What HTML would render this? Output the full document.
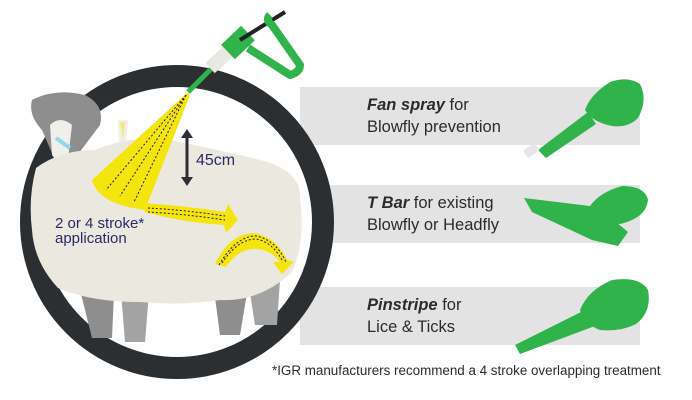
<!DOCTYPE html>
<html><head><meta charset="utf-8"><style>
html,body{margin:0;padding:0;background:#fff;}
svg{display:block;}
text{font-family:"Liberation Sans",sans-serif;}
</style></head><body>
<svg width="692" height="400" viewBox="0 0 692 400" xmlns="http://www.w3.org/2000/svg">
<!-- bands -->
<rect x="300" y="87" width="340" height="58" fill="#e3e3e3"/>
<rect x="300" y="185" width="340" height="58" fill="#e3e3e3"/>
<rect x="300" y="287" width="340" height="58" fill="#e3e3e3"/>
<!-- circle ring -->
<circle cx="177" cy="222" r="146" fill="#fff" stroke="#2b2f31" stroke-width="22"/>
<!-- legs -->
<g fill="#8e8e8e">
<path d="M75 270 L115 270 L112 338 L92 338 Z"/>
<path d="M120 280 L150 280 L145 342 L125 342 Z" fill="#a3a3a3"/>
<path d="M212 275 L250 275 L240 335 L220 335 Z"/>
<path d="M248 280 L280 280 L277 325 L255 325 Z" fill="#a3a3a3"/>
</g>
<!-- head -->
<path d="M32 100 Q55 88 85 95 Q105 105 100 125 L70 165 Q60 168 55 160 L42 130 Q28 115 32 100Z" fill="#8e8e8e"/>
<path d="M50 125 Q60 115 72 125 L68 160 Q58 165 52 155Z" fill="#f0efea"/>
<path d="M118 120 L128 120 L126 148 L119 148Z" fill="#f0efea"/>
<path d="M120 122 L125 122 L123 140Z" fill="#f3e87a"/>
<line x1="56" y1="138" x2="70" y2="148" stroke="#8fd8ef" stroke-width="4"/>
<!-- body -->
<path d="M36 168 Q60 150 95 150 Q130 135 170 140 Q220 150 260 160 Q302 170 300 200 Q306 240 292 272 Q260 302 220 300 Q180 306 140 302 Q90 302 58 288 Q34 262 32 230 Q28 198 36 168Z" fill="#ebe9df"/>
<!-- spray fan -->
<path d="M187 93 L92 180 Q98 204 145 210 L190 95Z" fill="#f5e50e"/>
<path d="M140 203 Q180 205 225 212 L228 204 L238 220 L226 233 L224 225 Q180 222 145 212Z" fill="#f5e50e"/>
<path d="M215 264 Q230 233 255 233 Q277 238 287 260 L294 262 L282 274 L273 262 L280 262 Q270 249 255 249 Q238 249 226 267Z" fill="#f5e50e"/>
<g stroke="#222" stroke-width="1" stroke-dasharray="2 2" fill="none">
<line x1="186" y1="95" x2="106" y2="190"/><line x1="186" y1="95" x2="120" y2="196"/><line x1="186" y1="95" x2="134" y2="202"/>
<path d="M148 208 Q185 210 225 216"/><path d="M148 212 Q185 214 225 220"/>
<path d="M222 263 Q238 239 256 239 Q273 242 283 262"/><path d="M219 265 Q236 236 256 236 Q276 240 286 262"/>
</g>
<!-- syringe -->
<path d="M188 92 L215 65" stroke="#2fb34a" stroke-width="5"/>
<path d="M210 68 L232 48" stroke="#e8e8e2" stroke-width="14"/>
<path d="M228 52 L248 33" stroke="#2fb34a" stroke-width="20"/>
<path d="M240 40 L285 12" stroke="#222" stroke-width="4"/>
<path d="M248 48 L290 75 Q300 72 300 65 L272 25 Q265 20 270 15" stroke="#2fb34a" stroke-width="8" fill="none" stroke-linejoin="round"/>
<!-- 45cm arrow -->
<line x1="187" y1="135" x2="187" y2="180" stroke="#2b2f31" stroke-width="3"/>
<path d="M181 138 L187 129 L193 138Z M181 177 L187 186 L193 177Z" fill="#2b2f31"/>
<text x="196" y="165" font-size="16" fill="#2a2a6a">45cm</text>
<text x="55" y="228" font-size="15" fill="#2a2a6a">2 or 4 stroke*</text>
<text x="55" y="243" font-size="15" fill="#2a2a6a">application</text>
<!-- band texts -->
<g font-size="16.5" fill="#2b2b2b">
<text x="367" y="110"><tspan font-weight="bold" font-style="italic">Fan spray</tspan> for</text>
<text x="367" y="132">Blowfly prevention</text>
<text x="367" y="208"><tspan font-weight="bold" font-style="italic">T Bar</tspan> for existing</text>
<text x="367" y="230">Blowfly or Headfly</text>
<text x="367" y="310"><tspan font-weight="bold" font-style="italic">Pinstripe</tspan> for</text>
<text x="367" y="332">Lice &amp; Ticks</text>
</g>
<!-- nozzles -->
<g fill="#2fb34a">
<path d="M538 150 L588 112 L596 124 L546 158Z"/>
<rect x="524" y="146" width="14" height="9" fill="#e6e6e6" transform="rotate(-35 531 150)"/>
<path d="M585 110 Q590 95 610 82 Q628 76 640 84 Q648 100 638 118 Q628 128 612 126 Q592 122 585 110Z"/>
<path d="M524 198 L598 207 L628 232 L618 246 L592 240 L532 212Z"/>
<path d="M590 206 Q600 192 622 186 Q645 186 648 200 Q646 218 620 224 Q600 222 590 206Z"/>
<path d="M515 345 L585 310 L595 326 L520 354Z"/>
<path d="M580 310 Q588 290 612 280 Q640 276 648 290 Q652 312 636 324 Q620 332 600 330 Q584 324 580 310Z"/>
</g>
<text x="272" y="375" font-size="13.4" fill="#2b2b2b">*IGR manufacturers recommend a 4 stroke overlapping treatment</text>
</svg>
</body></html>
